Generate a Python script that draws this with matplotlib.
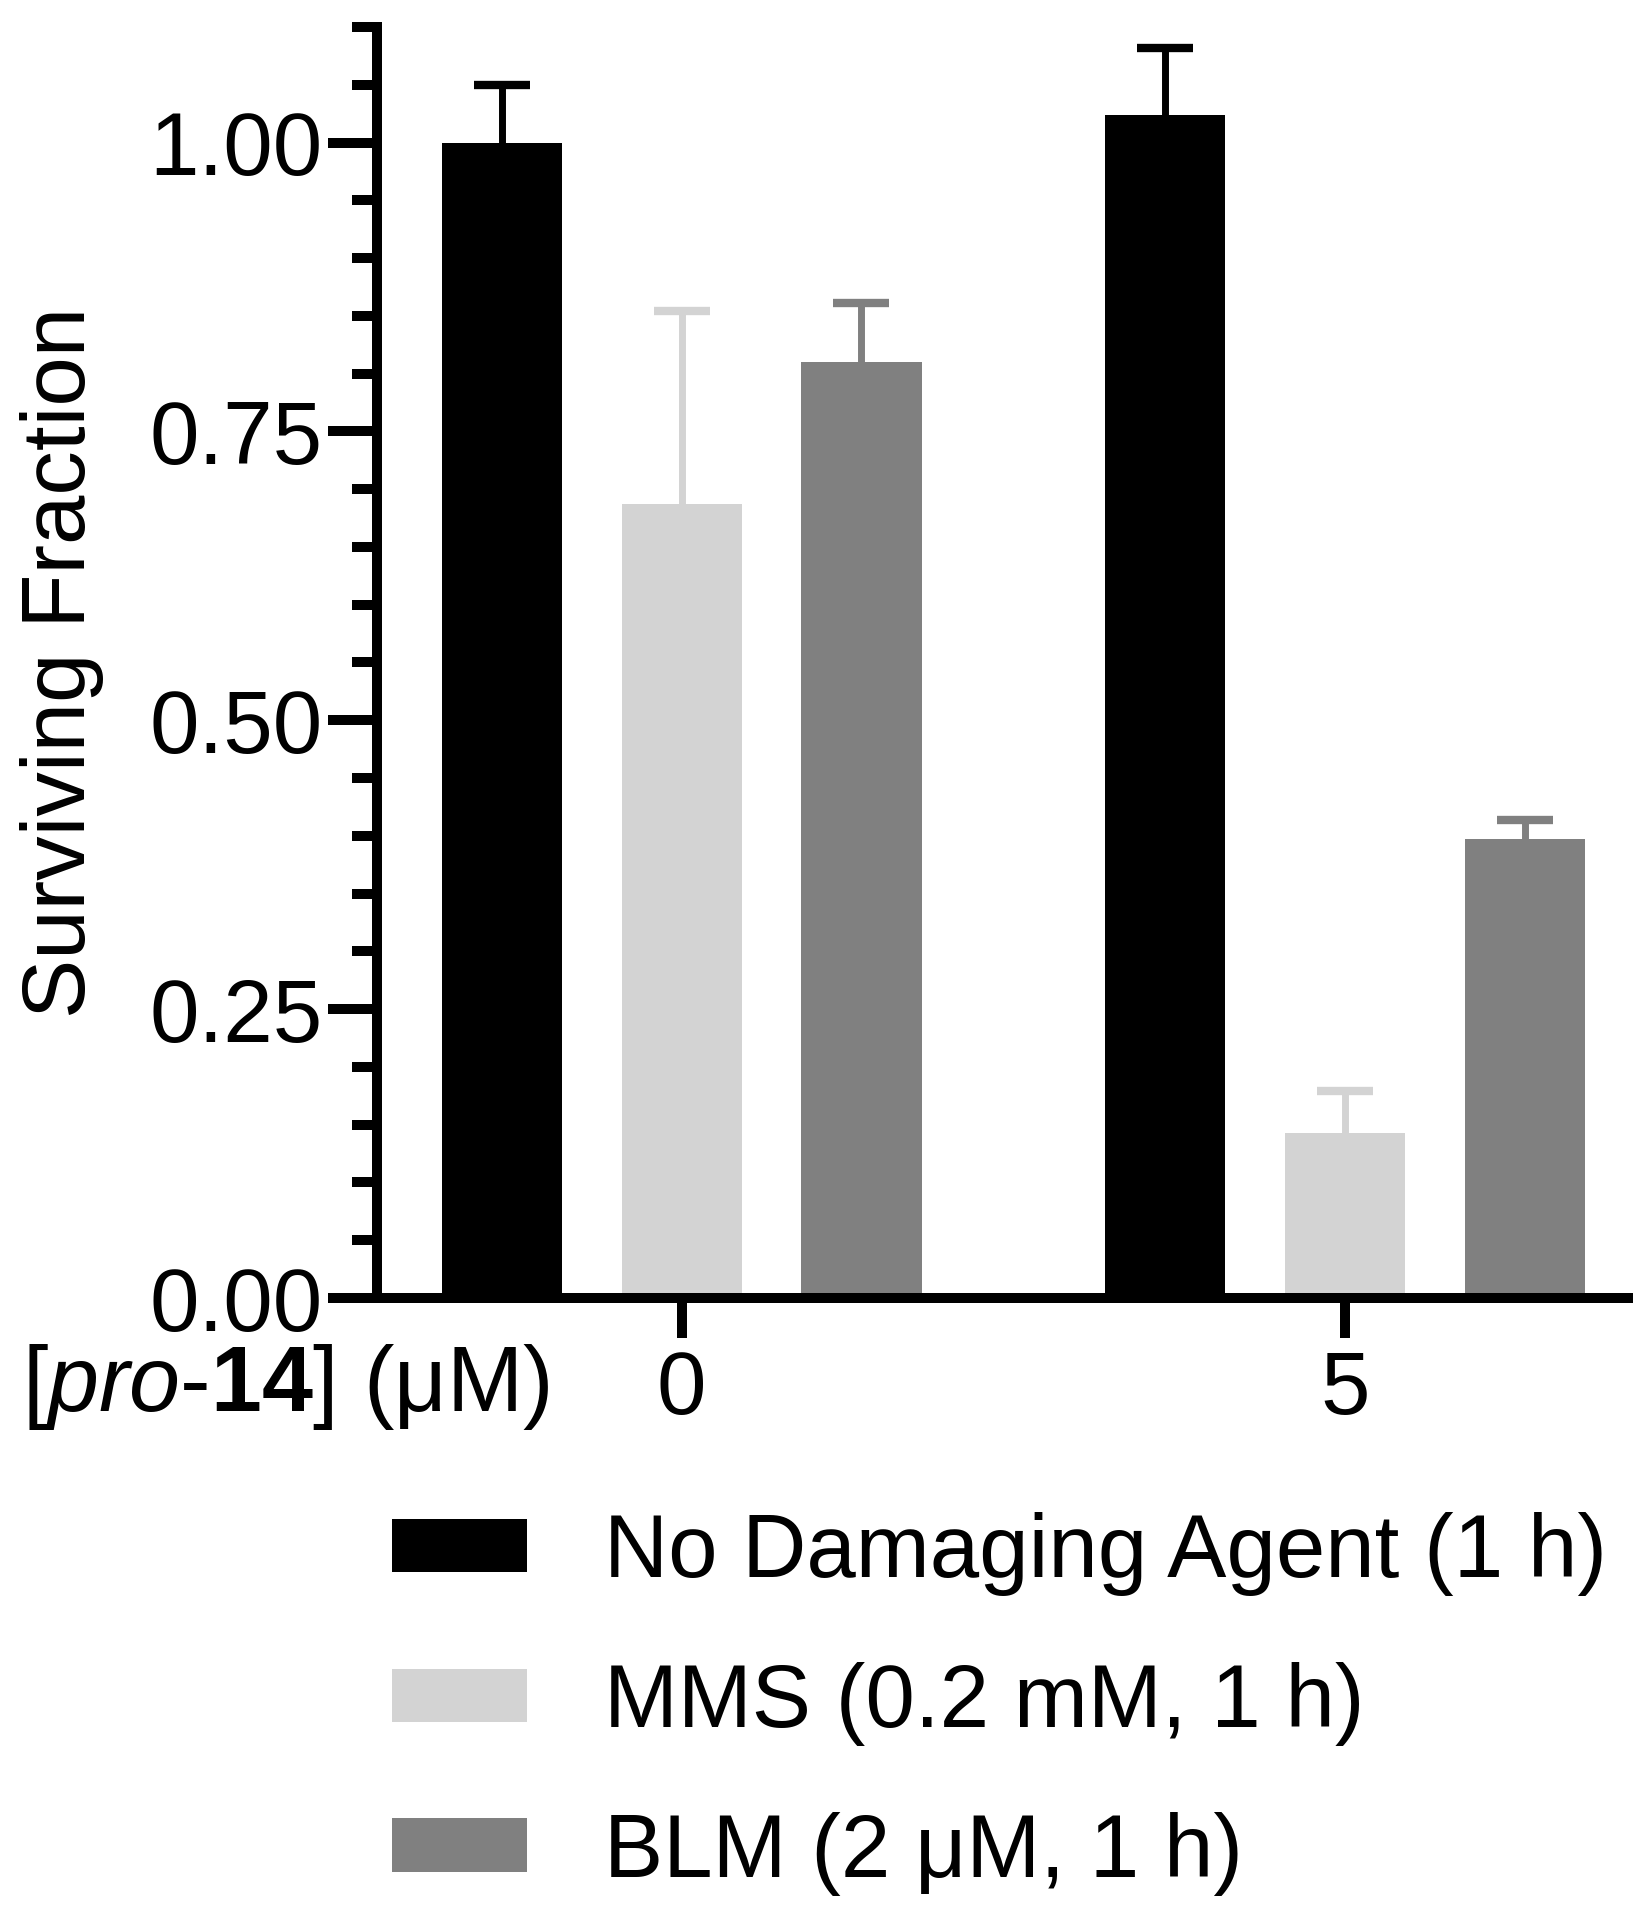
import numpy as np
import matplotlib
matplotlib.use("Agg")
from matplotlib import pyplot as plt
from matplotlib.ticker import MultipleLocator

plt.rcParams['font.family'] = ['Liberation Sans', 'DejaVu Sans']
plt.rcParams['mathtext.fontset'] = 'custom'
plt.rcParams['mathtext.rm'] = 'Liberation Sans'
plt.rcParams['mathtext.it'] = 'Liberation Sans:italic'
plt.rcParams['mathtext.bf'] = 'Liberation Sans:bold'

## data
doses = ["0", "5"]
series = ["No Damaging Agent (1 h)", "MMS (0.2 mM, 1 h)", "BLM (2 μM, 1 h)"]
no_agent = [1.00, 1.024]
no_agent_err = [0.050, 0.058]
mms = [0.687, 0.143]
mms_err = [0.167, 0.036]
blm = [0.810, 0.397]
blm_err = [0.051, 0.017]
colors = ["#000000", "#d3d3d3", "#808080"]

FS = 64

def main():
    fig = plt.figure(figsize=(16.48, 19.2), dpi=100)
    ax = fig.add_axes([377 / 1648, 1 - 1298 / 1920, (1628 - 377) / 1648, (1298 - 27) / 1920])

    x = np.arange(len(doses))
    offset = 0.271
    width = 0.181
    handles = []
    for i, (vals, errs, c, lab) in enumerate(zip([no_agent, mms, blm],
                                                 [no_agent_err, mms_err, blm_err],
                                                 colors, series)):
        pos = x + (i - 1) * offset
        b = ax.bar(pos, vals, width, color=c, label=lab, zorder=2)
        eb = ax.errorbar(pos, vals, yerr=[np.zeros(len(errs)), errs], fmt='none',
                         ecolor=c, elinewidth=5, capsize=20, capthick=6, zorder=1)
        # hide the lower caps (only upper error shown)
        eb[1][0].set_visible(False)
        handles.append(b)

    ax.set_xlim(-0.459, 1.426)
    ax.set_ylim(0, 1.1)
    ax.set_xticks(x)
    ax.set_xticklabels(doses)
    ax.yaxis.set_major_locator(MultipleLocator(0.25))
    ax.yaxis.set_minor_locator(MultipleLocator(0.05))
    ax.set_yticklabels([f"{v:.2f}" for v in ax.get_yticks()])
    ax.set_ylim(0, 1.1)

    for s in ['top', 'right']:
        ax.spines[s].set_visible(False)
    for s in ['left', 'bottom']:
        ax.spines[s].set_linewidth(7.2)
    ax.tick_params(axis='y', which='major', length=35, width=7.2, labelsize=FS, pad=4)
    ax.tick_params(axis='y', which='minor', length=18, width=7.2)
    ax.tick_params(axis='x', which='major', length=29, width=7.2, labelsize=FS, pad=8)

    ax.set_ylabel("Surviving Fraction", fontsize=FS)
    ax.yaxis.set_label_coords(-0.218, 0.5)

    fig.text(22 / 1648, 1 - 1387 / 1920, "[$\\mathit{pro}$-$\\mathbf{14}$] (μM)",
             fontsize=66, ha='left', va='center')

    fig.legend(handles=handles, labels=series, loc='upper left',
               bbox_to_anchor=(392 / 1648, 1 - 1512 / 1920), frameon=False,
               fontsize=FS, handlelength=1.52, handleheight=0.55,
               handletextpad=0.86, labelspacing=0.74, borderpad=0, borderaxespad=0)

    fig.savefig("out.png", dpi=100)


if __name__ == '__main__':
    main()
